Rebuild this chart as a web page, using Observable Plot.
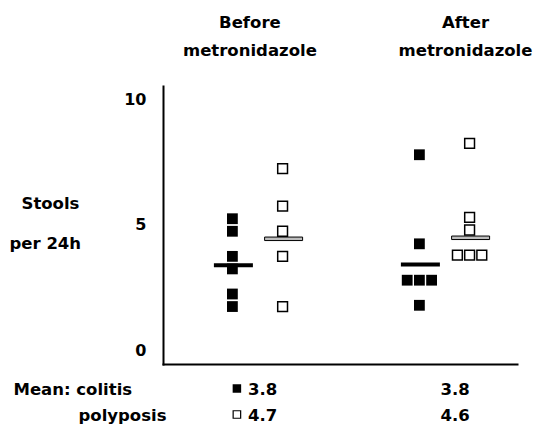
<!DOCTYPE html>
<html><head><meta charset="utf-8">
<script src="https://cdn.jsdelivr.net/npm/d3@7"></script>
<script src="https://cdn.jsdelivr.net/npm/@observablehq/plot@0.6"></script>
<style>body{margin:0;background:#fff} svg{display:block}</style>
</head><body><div id="chart"></div>
<script>
// ---- data ----
const periods = ["Before", "After"];
const periodTitles = ["Before\nmetronidazole", "After\nmetronidazole"];
const colitisBefore   = [5.25, 4.75, 3.75, 3.25, 2.25, 1.75];
const polyposisBefore = [7.25, 5.75, 4.75, 3.75, 1.75];
const colitisAfter    = [7.8, 4.25, 2.8, 2.8, 2.8, 1.8];
const polyposisAfter  = [8.25, 5.3, 4.8, 3.8, 3.8, 3.8];
const meanLineColitis   = [3.4, 3.43];
const meanLinePolyposis = [4.45, 4.49];
const meanLabelColitis   = ["3.8", "3.8"];
const meanLabelPolyposis = ["4.7", "4.6"];
const yTicks = [0, 5, 10];

// ---- build tables ----
function groupPoints(values, period, type) {
  const counts = d3.rollup(values, v => v.length, d => d);
  const seen = new Map();
  return values.map(v => {
    const i = seen.get(v) || 0; seen.set(v, i + 1);
    return {period, type, value: v, slot: i - (counts.get(v) - 1) / 2};
  });
}
const points = [
  ...groupPoints(colitisBefore, "Before", "colitis"),
  ...groupPoints(polyposisBefore, "Before", "polyposis"),
  ...groupPoints(colitisAfter, "After", "colitis"),
  ...groupPoints(polyposisAfter, "After", "polyposis")
];
const meansC = periods.map((p, i) => ({period: p, value: meanLineColitis[i], label: meanLabelColitis[i]}));
const meansP = periods.map((p, i) => ({period: p, value: meanLinePolyposis[i], label: meanLabelPolyposis[i]}));

// ---- style ----
const FONT = "DejaVu Sans";
const FS = 16.5;
const typeOffset = {colitis: -25.1, polyposis: 25.1};
const slotStep = 12.2;
const bar = (w, h) => ({draw(ctx) { ctx.rect(-w / 2, -h / 2, w, h); }});
const sq = (s) => ({draw(ctx) { ctx.rect(-s / 2, -s / 2, s, s); }});

const marks = [];
// points, one mark per (type, slot) so dx can differ
for (const type of ["colitis", "polyposis"]) {
  const slots = Array.from(new Set(points.filter(d => d.type === type).map(d => d.slot)));
  for (const s of slots) {
    const data = points.filter(d => d.type === type && d.slot === s);
    marks.push(Plot.dot(data, {
      x: "period", y: "value",
      dx: typeOffset[type] + s * slotStep,
      symbol: type === "colitis" ? sq(10.8) : sq(9.8),
      fill: type === "colitis" ? "black" : "white",
      stroke: "black",
      strokeWidth: type === "colitis" ? 0 : 1.5
    }));
  }
}
// mean bars
marks.push(Plot.dot(meansC, {x: "period", y: "value", dx: typeOffset.colitis + 1, symbol: bar(39, 4), fill: "black", stroke: "none"}));
marks.push(Plot.dot(meansP, {x: "period", y: "value", dx: typeOffset.polyposis + 1, symbol: bar(38, 3.5), fill: "#bdbdbd", stroke: "black", strokeWidth: 1}));

// axes lines
marks.push(Plot.frame({anchor: "left", strokeWidth: 2}));
marks.push(Plot.frame({anchor: "bottom", strokeWidth: 2}));

// column titles
const txt = {fontFamily: FONT, fontSize: FS, fontWeight: "bold", fill: "black"};
marks.push(Plot.text([periodTitles[0]], {...txt, x: () => periods[0], frameAnchor: "top", lineAnchor: "bottom", lineHeight: 1.64, dy: -31, dx: -7.6}));
marks.push(Plot.text([periodTitles[1]], {...txt, x: () => periods[1], frameAnchor: "top", lineAnchor: "bottom", lineHeight: 1.64, dy: -31, dx: 21}));

// y label
marks.push(Plot.text(["Stools"], {...txt, frameAnchor: "left", textAnchor: "start", lineAnchor: "bottom", dx: -142, dy: -17}));
marks.push(Plot.text(["per 24h"], {...txt, frameAnchor: "left", textAnchor: "start", lineAnchor: "bottom", dx: -154, dy: 23}));

// bottom mean rows
marks.push(Plot.text(["Mean: colitis"], {...txt, frameAnchor: "bottom-left", textAnchor: "start", lineAnchor: "bottom", dx: -150, dy: 30}));
marks.push(Plot.text(["polyposis"], {...txt, frameAnchor: "bottom-left", textAnchor: "start", lineAnchor: "bottom", dx: -85, dy: 56}));
const valDx = {Before: -9.6, After: -4};
for (const p of periods) {
  marks.push(Plot.text(meansC.filter(d => d.period === p), {...txt, x: "period", text: "label", frameAnchor: "bottom", textAnchor: "start", lineAnchor: "bottom", dx: valDx[p], dy: 30}));
  marks.push(Plot.text(meansP.filter(d => d.period === p), {...txt, x: "period", text: "label", frameAnchor: "bottom", textAnchor: "start", lineAnchor: "bottom", dx: valDx[p], dy: 56}));
}
// legend squares next to the "Before" values
marks.push(Plot.dot([periods[0]], {x: d => d, frameAnchor: "bottom", dy: 24, dx: -20.6, symbol: sq(8.5), fill: "black", stroke: "none"}));
marks.push(Plot.dot([periods[0]], {x: d => d, frameAnchor: "bottom", dy: 50, dx: -20.6, symbol: sq(7.5), fill: "white", stroke: "black", strokeWidth: 1.2}));

const chart = Plot.plot({
  width: 534, height: 434,
  marginTop: 86, marginBottom: 70, marginLeft: 163, marginRight: 17,
  style: {fontFamily: FONT, background: "white"},
  x: {type: "point", domain: periods, padding: 0.4432, align: 0.5627, axis: null},
  y: {domain: [-0.56, 10.52], ticks: yTicks, tickSize: 0, tickPadding: 17, label: null,
      tickFormat: d => String(d)},
  marks: [
    Plot.axisY(yTicks, {tickSize: 0, tickPadding: 17, fontSize: 16, fontWeight: "bold", fontFamily: FONT, label: null}),
    ...marks
  ]
});
document.getElementById("chart").appendChild(chart);
</script>
</body></html>
